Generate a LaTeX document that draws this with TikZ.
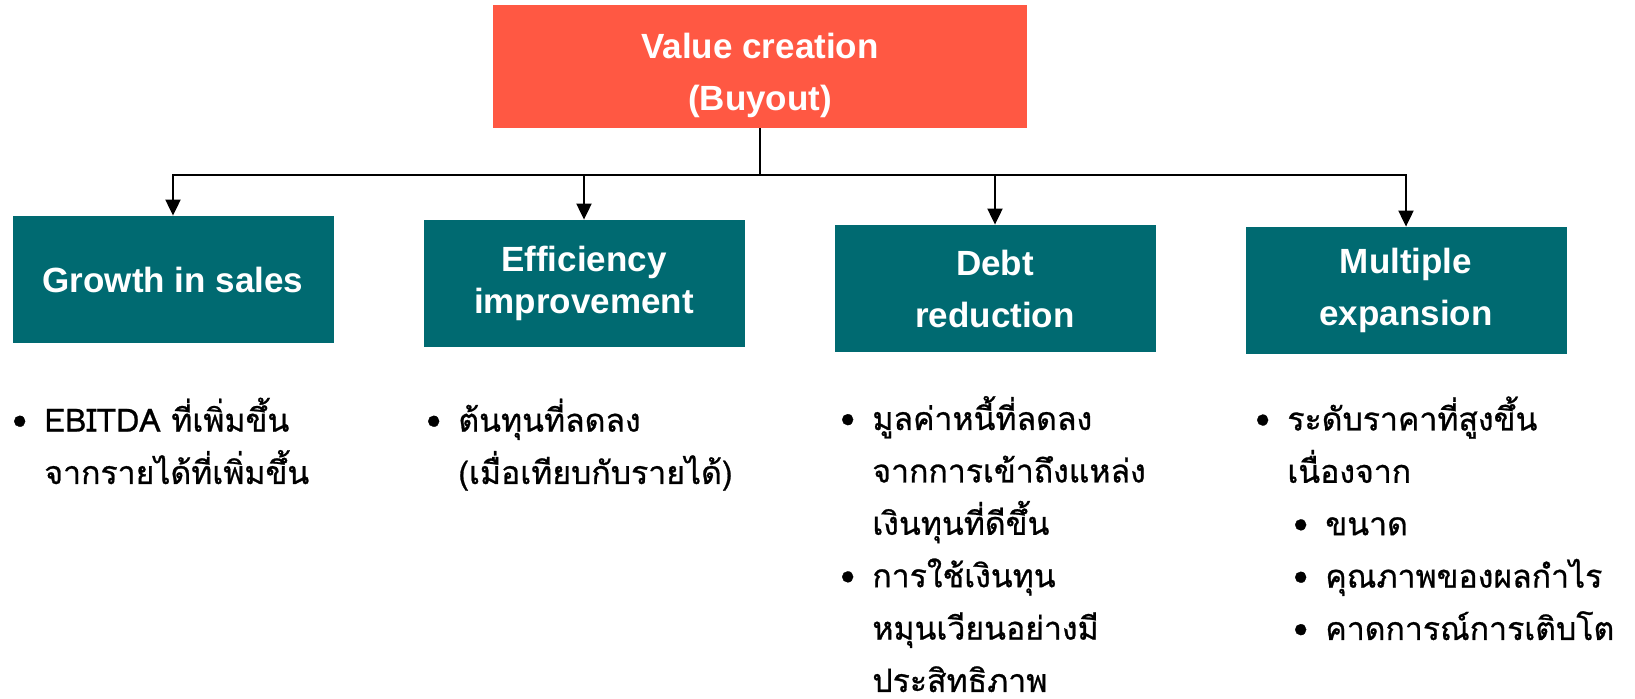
\documentclass[tikz,border=0pt]{standalone}
\usepackage{fontspec}
\setmainfont{Liberation Sans}
\newfontfamily\thaifont[Script=Thai,FakeBold=0.8]{Loma}
\usetikzlibrary{positioning,arrows.meta}
\definecolor{valuered}{HTML}{FF5843}
\definecolor{leverteal}{HTML}{006A71}
\newcommand{\bul}{\makebox[16pt][l]{\textbullet}}
\newcommand{\subbul}{\hspace*{19pt}\makebox[16pt][l]{\textbullet}}
\newcommand{\cont}{\hspace*{16pt}}
\begin{document}
\begin{tikzpicture}[x=0.5pt, y=-0.5pt,
    head/.style = {fill=valuered, text=white, align=center, inner sep=0pt,
        minimum width=267pt, minimum height=61.5pt, text height=47.5pt,
        font=\fontsize{17.5}{26}\selectfont\bfseries},
    lever/.style = {fill=leverteal, text=white, align=center, inner sep=0pt,
        minimum width=160.5pt, minimum height=63.5pt,
        font=\fontsize{17.5}{26}\selectfont\bfseries},
    notes/.style = {anchor=base west, align=left, inner sep=0pt,
        font=\thaifont\fontsize{16}{26.2}\selectfont},
    arrow/.style = {-{Triangle[width=7.5pt,length=8pt]}, line width=1pt}]
    \useasboundingbox (0,0) rectangle (1635,699);

    \node[head] (value) at (760,66.5) {Value creation\\(Buyout)};

    \node[lever] (growth) at (173,279.5) {Growth in sales};
    \node[lever] (effic) at (584,283.5) {Efficiency\\[-5pt]improvement};
    \node[lever] (debt) at (995,288.5) {Debt\\reduction};
    \node[lever] (multiple) at (1406,290.5) {Multiple\\expansion};

    \foreach \b in {growth,effic,debt,multiple}
        \draw[arrow] (value.south) -- ++(0,47) -| (\b.north);

    % notes under each lever (placed at the baseline of their last line)
    \node[notes] (salesnote) at (12,484) {\bul EBITDA ที่เพิ่มขึ้น\\
        \cont จากรายได้ที่เพิ่มขึ้น};
    \node[notes] (costnote) at (426,484) {\bul ต้นทุนที่ลดลง\\
        \cont (เมื่อเทียบกับรายได้)};
    \node[notes] (debtnote) at (840,692) {\bul มูลค่าหนี้ที่ลดลง\\
        \cont จากการเข้าถึงแหล่ง\\
        \cont เงินทุนที่ดีขึ้น\\
        \bul การใช้เงินทุน\\
        \cont หมุนเวียนอย่างมี\\
        \cont ประสิทธิภาพ};
    \node[notes] (multnote) at (1255,640) {\bul ระดับราคาที่สูงขึ้น\\
        \cont เนื่องจาก\\
        \subbul ขนาด\\
        \subbul คุณภาพของผลกำไร\\
        \subbul คาดการณ์การเติบโต};
\end{tikzpicture}
\end{document}
